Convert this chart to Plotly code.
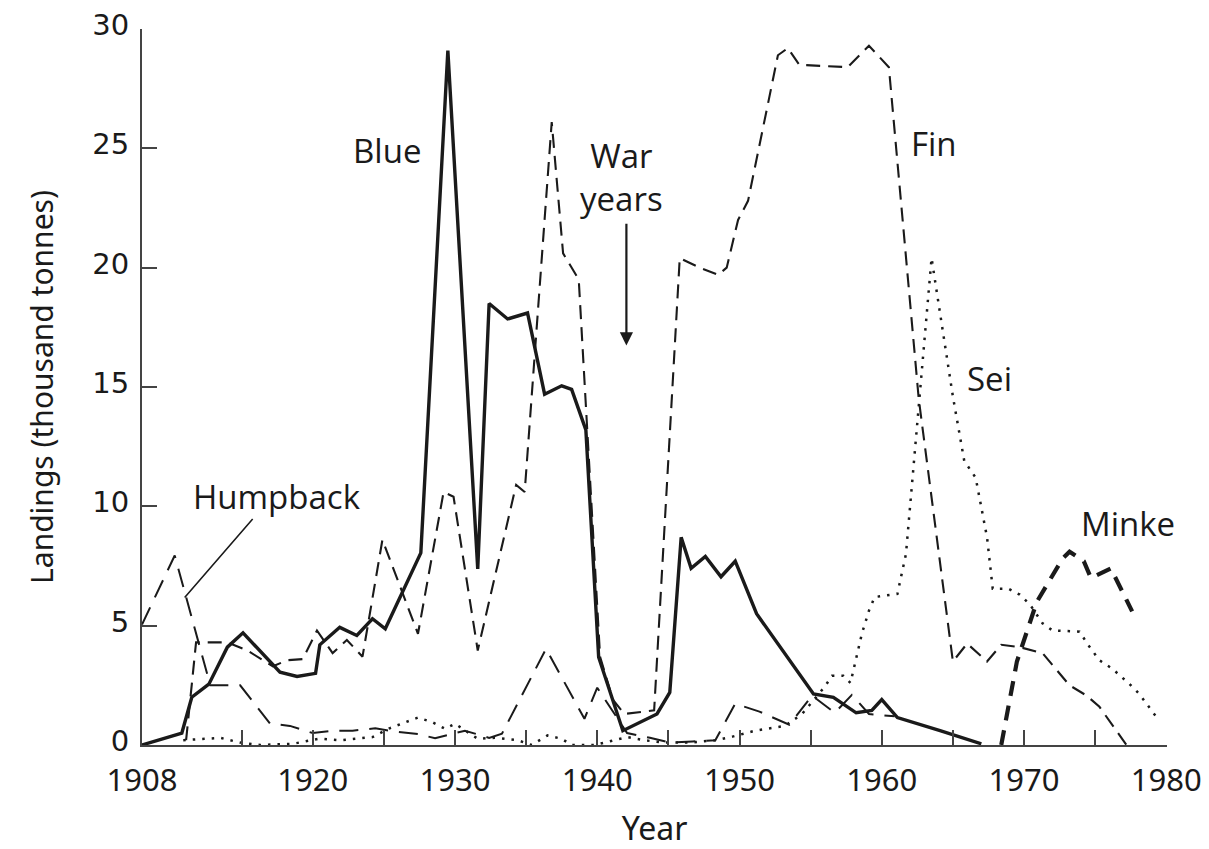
import plotly.graph_objects as go

# ---------------- data ----------------
blue_years = [1908.0, 1910.8, 1911.5, 1912.7, 1914.0, 1915.1, 1917.7, 1918.9, 1920.2, 1920.5,
              1921.9, 1923.1, 1924.2, 1925.1, 1927.6, 1929.5, 1931.6, 1932.4, 1933.7, 1935.1,
              1936.3, 1937.5, 1938.2, 1939.2, 1940.1, 1941.8, 1944.2, 1945.1, 1945.9, 1946.6,
              1947.6, 1948.7, 1949.7, 1951.2, 1955.2, 1956.6, 1958.2, 1959.3, 1960.0, 1961.1,
              1964.1, 1967.0]
blue_vals = [0.0, 0.5, 2.0, 2.55, 4.1, 4.7, 3.05, 2.87, 3.0, 4.2,
             4.93, 4.59, 5.29, 4.87, 8.05, 29.1, 7.38, 18.5, 17.85, 18.1,
             14.7, 15.05, 14.9, 13.2, 3.68, 0.6, 1.3, 2.2, 8.7, 7.4,
             7.9, 7.05, 7.7, 5.5, 2.14, 2.0, 1.35, 1.45, 1.9, 1.15,
             0.6, 0.05]

fin_years = [1911.1, 1911.8, 1914.0, 1915.4, 1917.2, 1918.2, 1919.3, 1920.3, 1921.4, 1922.4,
             1923.5, 1924.9, 1927.4, 1929.2, 1929.9, 1931.6, 1934.3, 1934.9, 1936.8, 1937.6,
             1938.7, 1940.2, 1941.1, 1941.9, 1944.0, 1945.8, 1947.2, 1948.5, 1949.1, 1949.9,
             1950.6, 1952.7, 1953.4, 1954.2, 1957.6, 1959.1, 1960.5, 1962.6, 1965.0, 1966.0,
             1967.4, 1968.4, 1969.7, 1971.3, 1973.2, 1974.4, 1975.3, 1977.2]
fin_vals = [0.2, 4.3, 4.3, 3.96, 3.3, 3.55, 3.6, 4.8, 3.85, 4.4,
            3.7, 8.6, 4.66, 10.6, 10.4, 3.96, 10.9, 10.6, 26.1, 20.6,
            19.5, 3.7, 1.9, 1.3, 1.45, 20.4, 20.0, 19.7, 20.0, 22.0,
            22.8, 28.9, 29.2, 28.5, 28.4, 29.3, 28.4, 14.5, 3.5, 4.25,
            3.5, 4.2, 4.1, 3.85, 2.5, 2.07, 1.6, 0.0]

humpback_years = [1908.0, 1910.3, 1912.8, 1914.9, 1917.0, 1918.4, 1920.0, 1921.4, 1922.8, 1924.4,
                  1925.9, 1927.5, 1928.6, 1930.7, 1932.4, 1933.3, 1936.4, 1939.1, 1940.0, 1942.1,
                  1943.7, 1945.1, 1946.7, 1948.3, 1949.7, 1951.4, 1953.5, 1955.1, 1956.7, 1957.9,
                  1959.1, 1960.9]
humpback_vals = [5.05, 7.94, 2.5, 2.5, 0.9, 0.8, 0.5, 0.6, 0.6, 0.7,
                 0.55, 0.45, 0.28, 0.6, 0.3, 0.47, 4.03, 1.1, 2.4, 0.5,
                 0.3, 0.1, 0.15, 0.2, 1.73, 1.4, 0.85, 2.07, 1.35, 2.1,
                 1.3, 1.2]

sei_years = [1910.9, 1913.5, 1914.9, 1916.3, 1918.6, 1920.5, 1921.9, 1924.2, 1925.4, 1927.4,
             1928.4, 1929.3, 1930.0, 1931.6, 1932.8, 1934.4, 1935.4, 1936.5, 1937.5, 1938.2,
             1939.8, 1942.1, 1943.3, 1944.7, 1946.5, 1948.3, 1949.5, 1951.1, 1953.2, 1954.4,
             1956.0, 1956.5, 1957.3, 1957.8, 1958.6, 1959.1, 1959.5, 1961.1, 1961.7, 1963.5,
             1965.0, 1965.8, 1966.6, 1967.4, 1967.8, 1968.9, 1969.7, 1970.4, 1971.3, 1972.0,
             1973.9, 1974.5, 1975.3, 1976.2, 1977.4, 1978.1, 1979.4]
sei_vals = [0.2, 0.3, 0.1, 0.0, 0.05, 0.27, 0.2, 0.33, 0.7, 1.15,
            0.96, 0.68, 0.89, 0.26, 0.3, 0.2, 0.0, 0.4, 0.26, 0.0,
            0.0, 0.33, 0.2, 0.1, 0.1, 0.2, 0.35, 0.6, 0.8, 1.3,
            2.45, 2.9, 2.9, 2.6, 4.66, 5.63, 6.2, 6.33, 8.0, 20.4,
            14.6, 11.9, 11.2, 8.7, 6.55, 6.55, 6.3, 5.9, 5.1, 4.8,
            4.75, 4.2, 3.55, 3.2, 2.56, 2.14, 1.1]

minke_years = [1968.4, 1969.5, 1970.9, 1972.7, 1973.2, 1974.2, 1974.7, 1976.1, 1977.6]
minke_vals = [0.0, 3.5, 6.0, 7.8, 8.1, 7.7, 7.0, 7.4, 5.6]

x_tick_vals = [1908, 1915, 1920, 1925, 1930, 1935, 1940, 1945, 1950, 1955, 1960, 1965, 1970, 1975, 1980]
x_tick_text = ["1908", "", "1920", "", "1930", "", "1940", "", "1950", "", "1960", "", "1970", "", "1980"]
y_tick_vals = [0, 5, 10, 15, 20, 25, 30]

INK = "#1a1a1a"
AXC = "#444"
TEXTF = "Noto Sans, Open Sans, sans-serif"
LABEL = "Open Sans, Noto Sans, sans-serif"

fig = go.Figure()
fig.add_trace(go.Scatter(x=humpback_years, y=humpback_vals, mode="lines", name="Humpback",
                         line=dict(color=INK, width=2.0, dash="19px,11px")))
fig.add_trace(go.Scatter(x=sei_years, y=sei_vals, mode="lines", name="Sei",
                         line=dict(color=INK, width=2.5, dash="2.5px,7px")))
fig.add_trace(go.Scatter(x=fin_years, y=fin_vals, mode="lines", name="Fin",
                         line=dict(color=INK, width=2.1, dash="14px,8px")))
fig.add_trace(go.Scatter(x=minke_years, y=minke_vals, mode="lines", name="Minke",
                         line=dict(color=INK, width=4.2, dash="15px,10px")))
fig.add_trace(go.Scatter(x=blue_years, y=blue_vals, mode="lines", name="Blue",
                         line=dict(color=INK, width=3.4)))

ann_font = dict(family=LABEL, size=33, color=INK)
annotations = [
    dict(x=1925.2, y=24.9, text="Blue", showarrow=False, font=ann_font),
    dict(x=1941.7, y=23.8, text="War<br>years", showarrow=False, font=ann_font),
    dict(x=1963.7, y=25.2, text="Fin", showarrow=False, font=ann_font),
    dict(x=1967.6, y=15.35, text="Sei", showarrow=False, font=ann_font),
    dict(x=1977.3, y=9.29, text="Minke", showarrow=False, font=ann_font),
    dict(x=1917.5, y=10.4, text="Humpback", showarrow=False, font=ann_font),
    # War years arrow
    dict(x=1942.05, y=16.74, ax=1942.05, ay=21.9, xref="x", yref="y", axref="x", ayref="y",
         text="", showarrow=True, arrowhead=2, arrowsize=1.2, arrowwidth=2.2, arrowcolor=INK),
    # Humpback pointer
    dict(x=1911.0, y=6.18, ax=1915.87, ay=9.53, xref="x", yref="y", axref="x", ayref="y",
         text="", showarrow=True, arrowhead=0, arrowwidth=1.6, arrowcolor=INK),
]

# the page body adds an 8 px offset, so the margins compensate for it
fig.update_layout(
    width=1209, height=849,
    margin=dict(l=134, r=50, t=21, b=112, autoexpand=False),
    paper_bgcolor="white", plot_bgcolor="white",
    showlegend=False,
    annotations=annotations,
    xaxis=dict(range=[1908, 1980.05], showline=True, linecolor=AXC, linewidth=2,
               ticks="inside", ticklen=15, tickwidth=2, tickcolor=AXC,
               tickvals=x_tick_vals, ticktext=x_tick_text, automargin=False,
               tickfont=dict(family=TEXTF, size=31, color=INK), ticklabelstandoff=7,
               showgrid=False, zeroline=False,
               title=dict(text="Year", font=dict(family=TEXTF, size=32, color=INK), standoff=18)),
    yaxis=dict(range=[0, 30], showline=True, linecolor=AXC, linewidth=2,
               ticks="inside", ticklen=15, tickwidth=2, tickcolor=AXC,
               tickvals=y_tick_vals, ticklabelstandoff=5, ticklabelshift=-4, automargin=False,
               tickfont=dict(family="DejaVu Sans, Verdana, sans-serif", size=29, color=INK),
               showgrid=False, zeroline=False,
               title=dict(text="Landings (thousand tonnes)", font=dict(family=TEXTF, size=30, color=INK), standoff=30)),
)

fig.write_html("out.html")
